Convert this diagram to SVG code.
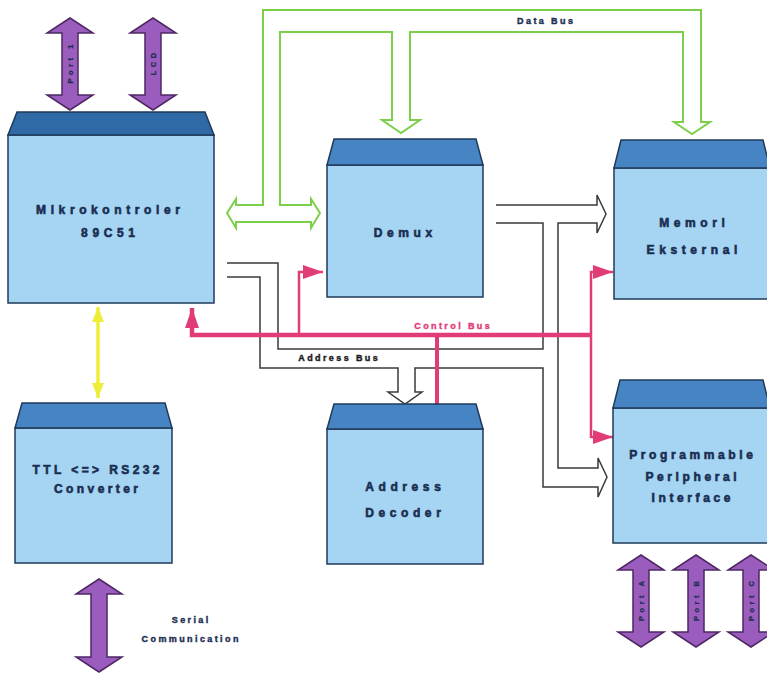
<svg xmlns="http://www.w3.org/2000/svg" width="767" height="673" viewBox="0 0 767 673">
<style>
.body{fill:#a5d5f2;stroke:#1f3a58;stroke-width:1.5}
.cap{fill:#4784c4;stroke:#1f3a58;stroke-width:1.5}
.capdark{fill:#2f69a6;stroke:#1f3a58;stroke-width:1.5}
.bt{font-family:"Liberation Sans",Arial,sans-serif;font-weight:bold;font-size:12px;letter-spacing:4.6px;fill:#1b2e52;stroke:#1b2e52;stroke-width:0.6;text-anchor:middle}
.sl{font-family:"Liberation Sans",Arial,sans-serif;font-weight:bold;font-size:9px;letter-spacing:2.4px;stroke-width:0.4;text-anchor:middle}
.purple{fill:#9b5dbd;stroke:#4e2763;stroke-width:1.5}
.pl{font-family:"Liberation Sans",Arial,sans-serif;font-weight:bold;font-size:7.5px;letter-spacing:3.5px;fill:#1b2e52;stroke:#1b2e52;stroke-width:0.3;text-anchor:middle;dominant-baseline:central}
.bus{fill:none;stroke:#3a3a3a;stroke-width:1.5;stroke-linejoin:miter}
.green{fill:none;stroke:#7ccf4a;stroke-width:2;stroke-linejoin:miter}
.pink{fill:none;stroke:#e23c78;stroke-linejoin:miter}
.yellow{fill:none;stroke:#f0ec3a;stroke-width:3.5}
</style>
<defs>
<marker id="pinkHead" viewBox="0 0 20 14" refX="20" refY="7" markerWidth="20" markerHeight="14" markerUnits="userSpaceOnUse" orient="auto">
<path d="M0,0 L20,7 L0,14 z" fill="#e23c78"/>
</marker>
<marker id="yellowHead" viewBox="0 0 15 12" refX="15" refY="6" markerWidth="15" markerHeight="12" markerUnits="userSpaceOnUse" orient="auto-start-reverse">
<path d="M0,0 L15,6 L0,12 z" fill="#f0ec3a"/>
</marker>
</defs>
<rect width="767" height="673" fill="#ffffff"/>

<g id="connectors">
<path class="green" d="M227,213 L236,199 L236,205 L263,205 L263,10 L701,10 L701,122 L710,122 L692,134 L674,122 L683,122 L683,32 L410,32 L410,120 L420,120 L401,133 L382,120 L392,120 L392,32 L280,32 L280,205 L311,205 L311,199 L320,213 L311,228 L311,222 L236,222 L236,228 Z"/>
<path class="bus" d="M227,263 L278,263 L278,349 L543,349 L543,223 L496,223"/>
<path class="bus" d="M227,277 L260,277 L260,368 L398,368 L398,392 L388,392 L405,404 L422,392 L415,392 L415,368 L543,368 L543,487 L598,487 L598,497 L607,477 L598,458 L598,468 L558,468 L558,223 L597,223 L597,233 L606,214 L597,195 L597,205 L496,205"/>
<path class="pink" stroke-width="2.5" d="M299,336 V272 H323" marker-end="url(#pinkHead)"/>
<path class="pink" stroke-width="2.5" d="M591,335 V272 H613" marker-end="url(#pinkHead)"/>
<path class="pink" stroke-width="2.5" d="M591,335 V437 H613" marker-end="url(#pinkHead)"/>
<path class="pink" stroke-width="4" d="M437,335 V404"/>
<path class="pink" stroke-width="4.5" d="M592,335 H192 V308" marker-end="url(#pinkHead)"/>
<path class="yellow" d="M98,307 V398" marker-start="url(#yellowHead)" marker-end="url(#yellowHead)"/>
<text class="sl" x="546.2" y="24.3" fill="#1b2e52" stroke="#1b2e52">Data Bus</text>
<text class="sl" x="339.2" y="361.3" fill="#1b1b1b" stroke="#1b1b1b">Address Bus</text>
<text class="sl" x="453.2" y="329.3" fill="#e23c78" stroke="#e23c78">Control Bus</text>
</g>

<g id="port1">
<path class="purple" d="M70,18 L93,33 L78,33 L78,95 L93,95 L70,110 L47,95 L62,95 L62,33 L47,33 Z"/>
<text class="pl" transform="rotate(-90 70 64)" x="71.7" y="64">Port 1</text>
</g>
<g id="lcd">
<path class="purple" d="M153,18 L176,33 L161,33 L161,95 L176,95 L153,110 L130,95 L145,95 L145,33 L130,33 Z"/>
<text class="pl" transform="rotate(-90 153 64)" x="154.7" y="64">LCD</text>
</g>

<g id="mikrokontroler">
<rect class="body" x="8" y="135" width="206" height="168"/>
<polygon class="capdark" points="17,112 205,112 214,135 8,135"/>
<text class="bt" x="110.3" y="214.3">Mikrokontroler</text>
<text class="bt" x="110.3" y="237.3">89C51</text>
</g>

<g id="demux">
<rect class="body" x="327" y="165" width="156" height="132"/>
<polygon class="cap" points="334,139 476,139 483,165 327,165"/>
<text class="bt" x="405.3" y="237.3">Demux</text>
</g>

<g id="memori">
<rect class="body" x="614" y="168" width="158" height="131"/>
<polygon class="cap" points="621,140 763,140 770,168 614,168"/>
<text class="bt" x="694.3" y="227.3">Memori</text>
<text class="bt" x="694.3" y="254.3">Eksternal</text>
</g>

<g id="ttl">
<rect class="body" x="15" y="428" width="157" height="135"/>
<polygon class="cap" points="22,403 165,403 172,428 15,428"/>
<text class="bt" x="97.7" y="474.3" style="letter-spacing:3.4px">TTL &lt;=&gt; RS232</text>
<text class="bt" x="97.7" y="493.3" style="letter-spacing:3.4px">Converter</text>
</g>

<g id="address-decoder">
<rect class="body" x="327" y="429" width="156" height="135"/>
<polygon class="cap" points="334,404 476,404 483,429 327,429"/>
<text class="bt" x="405.3" y="491.3">Address</text>
<text class="bt" x="405.3" y="517.3">Decoder</text>
</g>

<g id="ppi">
<rect class="body" x="613" y="408" width="158" height="135"/>
<polygon class="cap" points="620,380 763,380 770,408 613,408"/>
<text class="bt" x="692.8" y="459.3" style="letter-spacing:3.6px">Programmable</text>
<text class="bt" x="692.8" y="481.3" style="letter-spacing:3.6px">Peripheral</text>
<text class="bt" x="692.8" y="502.3" style="letter-spacing:3.6px">Interface</text>
</g>

<g id="serial">
<path class="purple" d="M99,579 L122,594 L107,594 L107,657 L122,657 L99,672 L76,657 L91,657 L91,594 L76,594 Z"/>
<text class="sl" x="191.2" y="623.3" fill="#1b2e52" stroke="#1b2e52">Serial</text>
<text class="sl" x="191.2" y="642.3" fill="#1b2e52" stroke="#1b2e52">Communication</text>
</g>

<g id="portA">
<path class="purple" d="M641,555 L664,570 L649,570 L649,632 L664,632 L641,647 L618,632 L633,632 L633,570 L618,570 Z"/>
<text class="pl" transform="rotate(-90 641 601)" x="642.7" y="601">Port A</text>
</g>
<g id="portB">
<path class="purple" d="M696,555 L719,570 L704,570 L704,632 L719,632 L696,647 L673,632 L688,632 L688,570 L673,570 Z"/>
<text class="pl" transform="rotate(-90 696 601)" x="697.7" y="601">Port B</text>
</g>
<g id="portC">
<path class="purple" d="M751,555 L774,570 L759,570 L759,632 L774,632 L751,647 L728,632 L743,632 L743,570 L728,570 Z"/>
<text class="pl" transform="rotate(-90 751 601)" x="752.7" y="601">Port C</text>
</g>
</svg>
